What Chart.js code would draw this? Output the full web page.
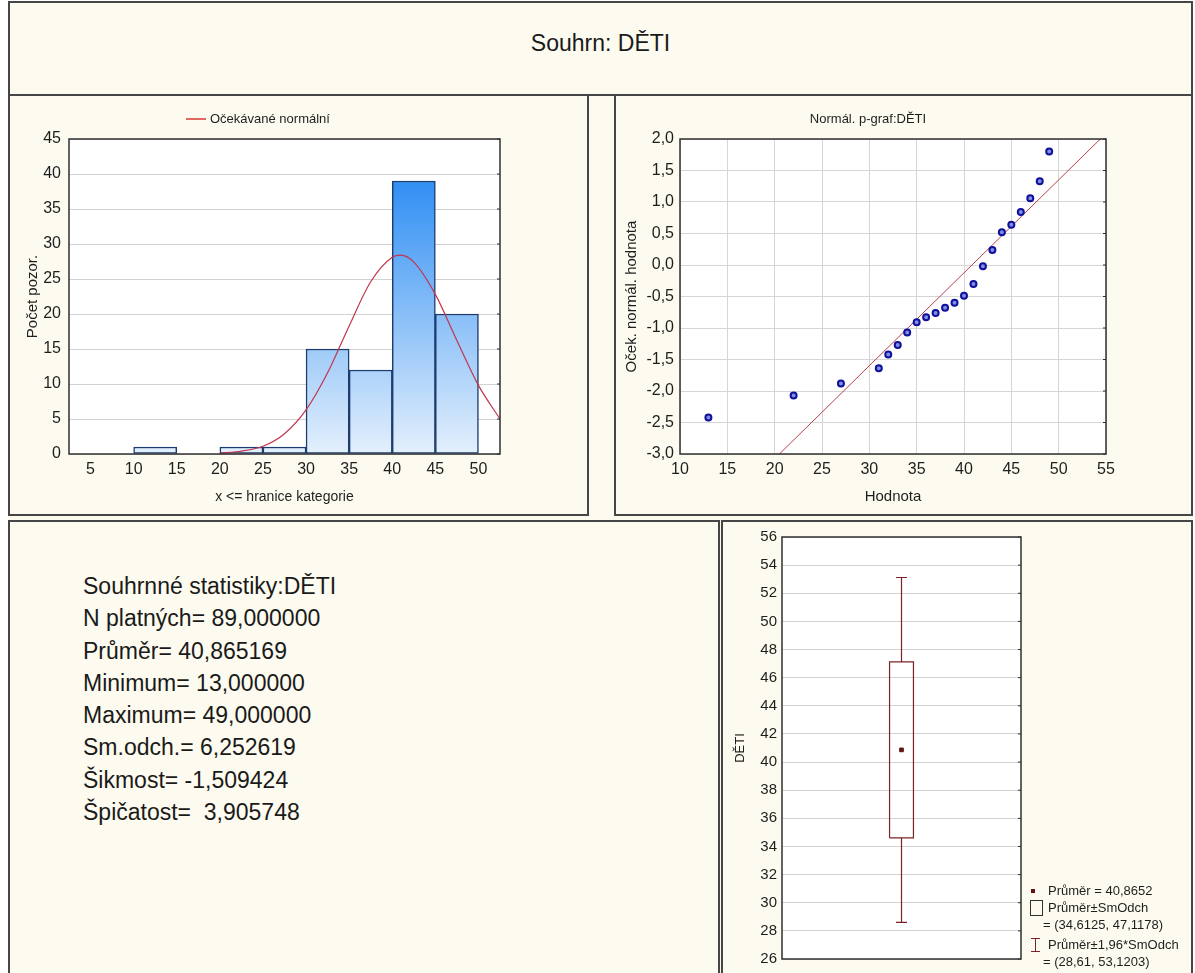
<!DOCTYPE html>
<html>
<head>
<meta charset="utf-8">
<script src="https://cdn.jsdelivr.net/npm/chart.js@4.4.1/dist/chart.umd.min.js"></script>
<style>
  html, body { margin: 0; padding: 0; background: #ffffff; }
  body { width: 1195px; height: 973px; position: relative; overflow: hidden;
         font-family: "Liberation Sans", Arial, sans-serif; color: #1a1a1a; }
  .sheet { position: absolute; left: 8px; top: 1px; width: 1185px; height: 1000px; background: #fdfbef; }
  .panel { position: absolute; box-sizing: border-box; border: 2px solid #464646; background: #fdfbef; }
  .panel canvas { position: absolute; }
  #title { position: absolute; left: 0; width: 100%; top: 27px; text-align: center; font-size: 23px; }
  #stats { position: absolute; left: 73px; top: 48px; font-size: 23px; line-height: 32.3px; white-space: pre; }
</style>
</head>
<body>
<div class="sheet"></div>
<div class="panel" style="left:8px; top:1px; width:1185px; height:95px;">
  <div id="title">Souhrn: DĚTI</div>
</div>
<div class="panel" style="left:8px; top:94px; width:581px; height:422px;">
  <canvas id="hist" width="576" height="417" style="left:1px; top:1px;"></canvas>
</div>
<div class="panel" style="left:614px; top:94px; width:579px; height:422px;">
  <canvas id="pplot" width="574" height="417" style="left:1px; top:1px;"></canvas>
</div>
<div class="panel" style="left:8px; top:520px; width:712px; height:480px;">
  <div id="stats"></div>
</div>
<div class="panel" style="left:721px; top:520px; width:472px; height:480px;">
  <canvas id="boxp" width="467" height="450" style="left:1px; top:1px;"></canvas>
</div>

<script>
// ---- Histogram: category boundaries and counts ----
const binEdges  = [5, 10, 15, 20, 25, 30, 35, 40, 45, 50];
const binCounts = [0, 1, 0, 1, 1, 15, 12, 39, 20];
const histTicks = [5, 10, 15, 20, 25, 30, 35, 40, 45, 50];
// expected normal counts along x
const normalX = [20, 22.5, 25, 27.5, 30, 32.5, 35, 37.5, 40, 41, 42.5, 45, 47.5, 50, 52.5];
const normalY = [0.1, 0.4, 1.1, 2.9, 6.3, 11.6, 18.3, 24.6, 28.1, 28.4, 27.4, 22.8, 16.2, 9.8, 5.0];

// ---- Normal probability plot ----
const probX = [13, 22, 27, 31, 32, 33, 34, 35, 36, 37, 38, 39, 40, 41, 42, 43, 44, 45, 46, 47, 48, 49];
const probZ = [-2.42, -2.07, -1.88, -1.64, -1.42, -1.27, -1.07, -0.91, -0.83, -0.76, -0.68, -0.60,
               -0.49, -0.30, -0.02, 0.24, 0.52, 0.64, 0.84, 1.06, 1.33, 1.80];
const refLineX = [20.5, 54.4];
const refLineZ = [-3.0, 2.0];

// ---- Mean / SD box ----
const boxMean = 40.8652;
const boxSd   = [34.6125, 47.1178];
const boxCi   = [28.61, 53.1203];

// ---- Summary statistics ----
const statsTitle  = 'Souhrnné statistiky:DĚTI';
const statsLabels = ['N platných=', 'Průměr=', 'Minimum=', 'Maximum=', 'Sm.odch.=', 'Šikmost=', 'Špičatost='];
const statsValues = [' 89,000000', ' 40,865169', ' 13,000000', ' 49,000000', ' 6,252619', ' -1,509424', '  3,905748'];

document.getElementById('stats').textContent =
  [statsTitle].concat(statsLabels.map((l, i) => l + statsValues[i])).join('\n');

const FONT = '"Liberation Sans", Arial, sans-serif';
Chart.defaults.font.family = FONT;
Chart.defaults.color = '#1e1e1e';
Chart.defaults.animation = false;

const comma = (v, d) => v.toFixed(d).replace('.', ',');

// white plot area, dark frame, and free text drawn on the canvas
const deco = {
  id: 'deco',
  beforeDraw(chart) {
    const a = chart.chartArea, c = chart.ctx;
    c.save(); c.fillStyle = '#ffffff'; c.fillRect(a.left, a.top, a.right - a.left, a.bottom - a.top); c.restore();
  },
  afterDraw(chart, args, opts) {
    const a = chart.chartArea, c = chart.ctx;
    c.save();
    c.strokeStyle = '#303030'; c.lineWidth = 1.5;
    c.strokeRect(a.left, a.top, a.right - a.left, a.bottom - a.top);
    if (opts.rightTicks) {
      const y = chart.scales.y;
      c.lineWidth = 1;
      y.ticks.forEach(t => { const py = y.getPixelForValue(t.value); c.beginPath(); c.moveTo(a.right - 3, py); c.lineTo(a.right, py); c.stroke(); });
    }
    if (opts.draw) opts.draw(c, chart);
    c.restore();
  }
};

// ---- Histogram with expected normal curve ----
const barPoints = [];
binCounts.forEach((n, i) => { if (n > 0) barPoints.push({ x: (binEdges[i] + binEdges[i + 1]) / 2, y: n }); });

let histGrad = null;
new Chart(document.getElementById('hist'), {
  type: 'bar',
  data: {
    datasets: [
      {
        type: 'line', label: 'Očekávané normální',
        data: normalX.map((x, i) => ({ x, y: normalY[i] })),
        borderColor: '#c0364e', borderWidth: 1.2, pointRadius: 0, cubicInterpolationMode: 'monotone', order: 0
      },
      {
        type: 'bar', label: 'Počet',
        data: barPoints,
        backgroundColor(ctx) {
          const a = ctx.chart.chartArea;
          if (!a) return '#6aaef0';
          if (!histGrad) {
            histGrad = ctx.chart.ctx.createLinearGradient(0, a.top, 0, a.bottom);
            histGrad.addColorStop(0, '#1580f2');
            histGrad.addColorStop(1, '#e4f0fc');
          }
          return histGrad;
        },
        borderColor: '#1d3c70', borderWidth: 1.5, borderSkipped: false,
        barPercentage: 1, categoryPercentage: 1, order: 1
      }
    ]
  },
  options: {
    responsive: false,
    layout: { padding: { left: 0, right: 87, top: 42, bottom: 0 } },
    plugins: {
      legend: { display: false }, tooltip: { enabled: false },
      deco: {
        rightTicks: true,
        draw(c) {
          c.strokeStyle = '#d01818'; c.lineWidth = 1.3;
          c.beginPath(); c.moveTo(175, 22); c.lineTo(195, 22); c.stroke();
          c.fillStyle = '#1e1e1e'; c.font = '13px ' + FONT; c.textBaseline = 'middle';
          c.fillText('Očekávané normální', 199, 22);
        }
      }
    },
    scales: {
      x: {
        type: 'linear', min: 2.5, max: 52.5, offset: false,
        afterBuildTicks(s) { s.ticks = histTicks.map(v => ({ value: v })); },
        afterFit(s) { s.height = 60; },
        grid: { display: false, drawTicks: false, offset: false }, border: { display: false },
        ticks: { padding: 6, font: { size: 16 }, autoSkip: false, maxRotation: 0 },
        title: { display: true, text: 'x <= hranice kategorie', font: { size: 14 }, padding: { top: 4, bottom: 8 } }
      },
      y: {
        min: 0, max: 45,
        afterFit(s) { s.width = 58; },
        ticks: { stepSize: 5, padding: 8, font: { size: 16 } },
        grid: { color: '#d2d2d2', drawTicks: false }, border: { display: false },
        title: { display: true, text: 'Počet pozor.', font: { size: 15 }, padding: { top: 13, bottom: 0 } }
      }
    }
  },
  plugins: [deco]
});

// ---- Normal probability plot ----
new Chart(document.getElementById('pplot'), {
  type: 'scatter',
  data: {
    datasets: [
      {
        label: 'Hodnota',
        data: probX.map((x, i) => ({ x, y: probZ[i] })),
        pointRadius: 3, pointBorderWidth: 2, borderColor: '#10109c', backgroundColor: '#7f8fe0', order: 0
      },
      {
        type: 'line', label: 'Normál',
        data: refLineX.map((x, i) => ({ x, y: refLineZ[i] })),
        borderColor: '#b5404c', borderWidth: 1, pointRadius: 0, order: 1
      }
    ]
  },
  options: {
    responsive: false,
    layout: { padding: { left: 0, right: 85, top: 42, bottom: 0 } },
    plugins: {
      legend: { display: false }, tooltip: { enabled: false },
      deco: {
        rightTicks: true,
        draw(c) {
          c.fillStyle = '#1e1e1e'; c.font = '13px ' + FONT; c.textBaseline = 'middle'; c.textAlign = 'center';
          c.fillText('Normál. p-graf:DĚTI', 251, 22);
        }
      }
    },
    scales: {
      x: {
        type: 'linear', min: 10, max: 55,
        afterFit(s) { s.height = 60; },
        grid: { color: '#d6d6d6', drawTicks: false }, border: { display: false },
        ticks: { stepSize: 5, padding: 6, font: { size: 16 }, maxRotation: 0 },
        title: { display: true, text: 'Hodnota', font: { size: 15 }, padding: { top: 4, bottom: 8 } }
      },
      y: {
        min: -3, max: 2,
        afterFit(s) { s.width = 63; },
        ticks: { stepSize: 0.5, padding: 6, font: { size: 16 }, callback: v => comma(v, 1) },
        grid: { color: '#d6d6d6', drawTicks: false }, border: { display: false },
        title: { display: true, text: 'Oček. normál. hodnota', font: { size: 15 }, padding: { top: 6, bottom: 0 } }
      }
    }
  },
  plugins: [deco]
});

// ---- Mean, mean ± SD box and mean ± 1.96*SD whiskers ----
const BOX_HALF = 0.1, CAP_HALF = 0.046;
const boxColor = '#7a2326';
new Chart(document.getElementById('boxp'), {
  type: 'scatter',
  data: {
    datasets: [
      {
        label: 'Průměr±SmOdch', showLine: true, pointRadius: 0, borderColor: boxColor, borderWidth: 1.2,
        data: [
          { x: -BOX_HALF, y: boxSd[0] }, { x: BOX_HALF, y: boxSd[0] }, { x: BOX_HALF, y: boxSd[1] },
          { x: -BOX_HALF, y: boxSd[1] }, { x: -BOX_HALF, y: boxSd[0] }
        ]
      },
      {
        label: 'Průměr±1,96*SmOdch', showLine: true, spanGaps: false, pointRadius: 0, borderColor: boxColor, borderWidth: 1.2,
        data: [
          { x: 0, y: boxSd[1] }, { x: 0, y: boxCi[1] }, { x: 0, y: null },
          { x: -CAP_HALF, y: boxCi[1] }, { x: CAP_HALF, y: boxCi[1] }, { x: 0, y: null },
          { x: 0, y: boxSd[0] }, { x: 0, y: boxCi[0] }, { x: 0, y: null },
          { x: -CAP_HALF, y: boxCi[0] }, { x: CAP_HALF, y: boxCi[0] }
        ]
      },
      {
        label: 'Průměr', data: [{ x: 0, y: boxMean }],
        pointRadius: 2.6, pointStyle: 'rect', backgroundColor: '#5e1414', borderColor: '#5e1414'
      }
    ]
  },
  options: {
    responsive: false,
    layout: { padding: { left: 0, right: 170, top: 13, bottom: 13 } },
    plugins: {
      legend: { display: false }, tooltip: { enabled: false },
      deco: {
        rightTicks: true,
        draw(c) {
          c.font = '13px ' + FONT; c.textBaseline = 'middle'; c.fillStyle = '#1e1e1e';
          c.fillText('Průměr = ' + comma(boxMean, 4), 324, 368);
          c.fillText('Průměr±SmOdch', 324, 385);
          c.fillText('= (' + comma(boxSd[0], 4) + ', ' + comma(boxSd[1], 4) + ')', 319, 402);
          c.fillText('Průměr±1,96*SmOdch', 324, 422);
          c.fillText('= (' + comma(boxCi[0], 2) + ', ' + comma(boxCi[1], 4) + ')', 319, 439);
          // legend markers
          c.fillStyle = '#5e1414'; c.fillRect(307, 366, 4, 4);
          c.strokeStyle = '#333'; c.lineWidth = 1; c.strokeRect(306.5, 377.5, 12, 15);
          c.strokeStyle = boxColor;
          c.beginPath();
          c.moveTo(311.5, 415); c.lineTo(311.5, 429);
          c.moveTo(307, 415.5); c.lineTo(316, 415.5);
          c.moveTo(307, 428.5); c.lineTo(316, 428.5);
          c.stroke();
        }
      }
    },
    scales: {
      x: { type: 'linear', min: -1, max: 1, display: false },
      y: {
        min: 26, max: 56,
        afterFit(s) { s.width = 58; },
        ticks: { stepSize: 2, padding: 5, font: { size: 15 } },
        grid: { color: '#d2d2d2', drawTicks: false }, border: { display: false },
        title: { display: true, text: 'DĚTI', font: { size: 13 }, padding: { top: 9, bottom: 0 } }
      }
    }
  },
  plugins: [deco]
});
</script>
</body>
</html>
